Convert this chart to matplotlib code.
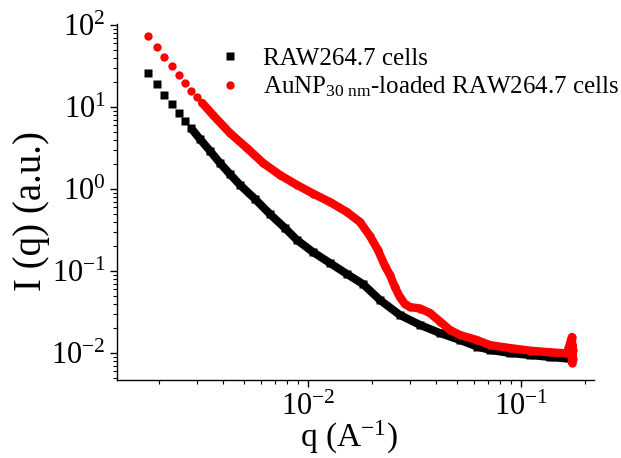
import matplotlib
matplotlib.use("Agg")
import matplotlib.pyplot as plt
import numpy as np

plt.rcParams["font.family"] = ["Liberation Serif", "DejaVu Serif"]
plt.rcParams["mathtext.fontset"] = "custom"
plt.rcParams["mathtext.rm"] = "Liberation Serif"
plt.rcParams["mathtext.it"] = "Liberation Serif:italic"
plt.rcParams["mathtext.default"] = "regular"
plt.rcParams["axes.unicode_minus"] = False

q_raw = [1.78e-3, 1.95e-3, 2.12e-3, 2.30e-3, 2.48e-3, 2.65e-3, 2.83e-3,
         3.11e-3, 3.47e-3, 3.86e-3, 4.30e-3, 4.80e-3, 5.64e-3, 6.63e-3,
         7.80e-3, 8.88e-3, 1.055e-2, 1.268e-2, 1.524e-2, 1.812e-2, 2.178e-2,
         2.70e-2, 3.36e-2, 4.17e-2, 5.17e-2, 6.21e-2, 7.15e-2, 8.88e-2,
         0.1102, 0.1368, 0.1736]
I_raw = [25.8, 19.1, 13.9, 10.8, 8.45, 6.81, 5.50,
         4.07, 2.91, 2.08, 1.52, 1.12, 0.755, 0.495,
         0.334, 0.239, 0.1705, 0.1252, 0.0919, 0.0694, 0.0443,
         0.0291, 0.0220, 0.0175, 0.0144, 0.0120, 0.0109, 0.0100,
         0.00945, 0.00894, 0.00845]
n_raw_sparse = 7

q_au = [1.78e-3, 1.95e-3, 2.12e-3, 2.30e-3, 2.48e-3, 2.65e-3, 2.83e-3,
        3.01e-3, 3.19e-3,
        3.58e-3, 4.30e-3, 5.17e-3, 6.15e-3, 7.39e-3, 8.88e-3, 1.055e-2,
        1.268e-2, 1.524e-2, 1.754e-2, 1.955e-2, 2.131e-2, 2.30e-2, 2.427e-2,
        2.56e-2, 2.70e-2, 2.853e-2, 3.01e-2, 3.36e-2, 3.74e-2, 4.17e-2,
        4.64e-2, 5.17e-2, 6.21e-2, 7.15e-2, 8.88e-2, 0.1102, 0.1368,
        0.1644, 0.1736, 0.1740, 0.1744, 0.1748, 0.1752]
I_au = [74.1, 54.4, 40.7, 31.4, 24.6, 19.5, 15.8,
        13.1, 11.2,
        7.99, 4.82, 3.16, 2.08, 1.48, 1.12, 0.881,
        0.694, 0.524, 0.396, 0.267, 0.180, 0.115, 0.0894,
        0.0638, 0.0482, 0.0396, 0.0364, 0.0349, 0.0307, 0.0242,
        0.0191, 0.0166, 0.0144, 0.0125, 0.0115, 0.0107, 0.0102,
        0.0099, 0.0157, 0.0076, 0.0125, 0.0085, 0.0110]
n_au_sparse = 9

label_raw = "RAW264.7 cells"
label_au = "AuNP$_{30\\ nm}$-loaded RAW264.7 cells"

fig = plt.figure(figsize=(6.21, 4.58), dpi=100)
ax = fig.add_axes([0.1884, 0.1703, 0.7681, 0.7773])

ax.plot(q_raw, I_raw, "s", color="black", ms=5.5, mec="none",
        ls="none", label=label_raw)
ax.plot(q_raw[n_raw_sparse - 1:], I_raw[n_raw_sparse - 1:], "-",
        color="black", lw=5.8, solid_capstyle="butt")

ax.plot(q_au, I_au, "o", color="#ff0000", ms=6.0, mec="none",
        ls="none", label=label_au)
ax.plot(q_au[n_au_sparse - 1:], I_au[n_au_sparse - 1:], "-",
        color="#ff0000", lw=6.0, solid_capstyle="round",
        solid_joinstyle="round")

ax.set_xscale("log")
ax.set_yscale("log")
ax.set_xlim(1.269e-3, 0.2202)
ax.set_ylim(4.69e-3, 102.8)

for side in ("top", "right"):
    ax.spines[side].set_visible(False)
for side in ("left", "bottom"):
    ax.spines[side].set_linewidth(1.0)

ax.tick_params(which="major", direction="out", length=5, width=1.0,
               labelsize=22)
ax.tick_params(which="minor", direction="out", length=3, width=0.8)
ax.tick_params(axis="x", which="major", pad=4)
ax.tick_params(axis="y", which="major", pad=3)

ax.set_xlabel("q (A$^{-1}$)", fontsize=24)
ax.set_ylabel("I (q) (a.u.)", fontsize=28)
ax.xaxis.set_label_coords(0.486, -0.108)
ax.yaxis.set_label_coords(-0.14, 0.475)

ax.legend(loc="upper left", bbox_to_anchor=(0.350, 0.897),
          bbox_transform=fig.transFigure, frameon=False, fontsize=18,
          handlelength=1.0, handletextpad=0.82, borderpad=0,
          borderaxespad=0, labelspacing=0.2)

fig.savefig("out.png", dpi=100)
